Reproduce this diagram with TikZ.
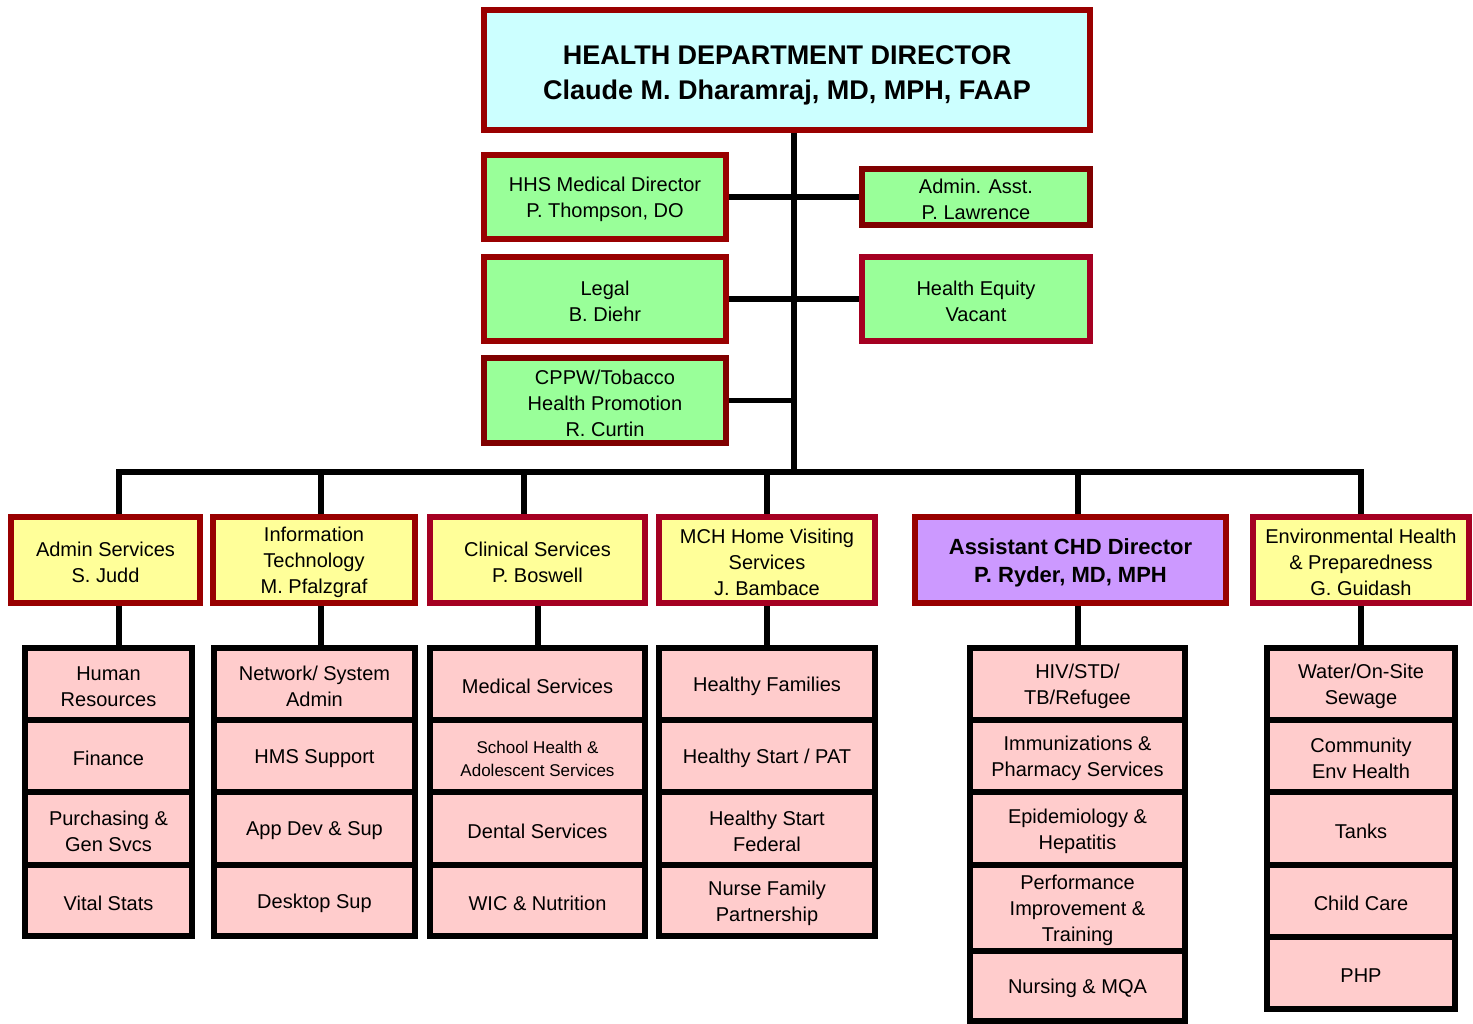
\documentclass[tikz,border=0pt]{standalone}
\usepackage{fontspec}
\setmainfont{Liberation Sans}
\definecolor{dred}{HTML}{990000}
\definecolor{crim}{HTML}{A50021}
\definecolor{mrn}{HTML}{800000}
\definecolor{cyanfill}{HTML}{CCFFFF}
\definecolor{greenfill}{HTML}{99FF99}
\definecolor{yellowfill}{HTML}{FFFF99}
\definecolor{purplefill}{HTML}{CC99FF}
\definecolor{pinkfill}{HTML}{FFCCCC}
\tikzset{
 base/.style={draw, line width=6pt, inner sep=0pt, align=center, text=black, font=\fontsize{20}{26}\selectfont, textshift/.initial=-2.5pt},
 topbox/.style={base, draw=dred, fill=cyanfill, font=\bfseries\fontsize{27}{35}\selectfont, textshift=-5pt},
 staffbox/.style={base, draw=dred, fill=greenfill},
 divbox/.style={base, draw=dred, fill=yellowfill},
 asstbox/.style={base, draw=dred, fill=purplefill, font=\bfseries\fontsize{22}{28}\selectfont},
 unitbox/.style={base, draw=black, fill=pinkfill},
 smalltext/.style={font=\fontsize{17}{23}\selectfont},
 conn/.style={line width=5.5pt, draw=black, line join=miter},
}
\newcommand\obox[7]{%
 \pgfmathsetmacro\obW{#5-#3}\pgfmathsetmacro\obH{#6-#4}%
 \pgfmathsetmacro\obX{(#3+#5)/2}\pgfmathsetmacro\obY{(#4+#6)/2}%
 \node[#2, minimum width=\obW pt, minimum height=\obH pt] (#1) at (\obX,\obY) {};
 \node[#2, draw=none, fill=none, minimum width=0pt, minimum height=0pt, yshift=\pgfkeysvalueof{/tikz/textshift}] at (#1.center) {#7};}
\begin{document}
\begin{tikzpicture}[x=1pt,y=-1pt]
\tikzset{textshift/.initial=-2.5pt}
\useasboundingbox (0,0) rectangle (1473,1024);
% top
\obox{dir}{topbox}{484}{10}{1090}{130}{HEALTH DEPARTMENT DIRECTOR\\Claude M. Dharamraj, MD, MPH, FAAP}
\obox{hhs}{staffbox}{484}{155}{726}{239}{HHS Medical Director\\P. Thompson, DO}
\obox{aa}{staffbox, draw=mrn}{862}{169}{1090}{225}{Admin. Asst.\\P. Lawrence}
\obox{legal}{staffbox}{484}{257}{726}{341}{Legal\\B. Diehr}
\obox{he}{staffbox, draw=crim}{862}{257}{1090}{341}{Health Equity\\Vacant}
\obox{cppw}{staffbox, draw=mrn}{484}{358}{726}{443}{CPPW/Tobacco\\Health Promotion\\R. Curtin}
% divisions
\obox{adms}{divbox}{11}{517}{200}{603}{Admin Services\\S. Judd}
\obox{it}{divbox}{213}{517}{415}{603}{Information\\Technology\\M. Pfalzgraf}
\obox{clin}{divbox, draw=crim}{430}{517}{645}{603}{Clinical Services\\P. Boswell}
\obox{mch}{divbox, draw=crim}{659}{517}{875}{603}{MCH Home Visiting\\Services\\J. Bambace}
\obox{asst}{asstbox}{915}{517}{1226}{603}{Assistant CHD Director\\P. Ryder, MD, MPH}
\obox{env}{divbox, draw=crim}{1253}{517}{1469}{603}{Environmental Health\\\& Preparedness\\G. Guidash}
% admin units
\obox{a1}{unitbox}{25}{648}{192}{720}{Human\\Resources}
\obox{a2}{unitbox}{25}{720}{192}{792}{Finance}
\obox{a3}{unitbox}{25}{792}{192}{865}{Purchasing \&\\Gen Svcs}
\obox{a4}{unitbox}{25}{865}{192}{936}{Vital Stats}
% IT units
\obox{i1}{unitbox}{214}{648}{415}{720}{Network/ System\\Admin}
\obox{i2}{unitbox}{214}{720}{415}{792}{HMS Support}
\obox{i3}{unitbox}{214}{792}{415}{865}{App Dev \& Sup}
\obox{i4}{unitbox}{214}{865}{415}{936}{Desktop Sup}
% clinical units
\obox{c1}{unitbox}{430}{648}{645}{720}{Medical Services}
\obox{c2}{unitbox, smalltext}{430}{720}{645}{792}{School Health \&\\Adolescent Services}
\obox{c3}{unitbox}{430}{792}{645}{865}{Dental Services}
\obox{c4}{unitbox}{430}{865}{645}{936}{WIC \& Nutrition}
% MCH units
\obox{m1}{unitbox}{659}{648}{875}{720}{Healthy Families}
\obox{m2}{unitbox}{659}{720}{875}{792}{Healthy Start / PAT}
\obox{m3}{unitbox}{659}{792}{875}{865}{Healthy Start\\Federal}
\obox{m4}{unitbox}{659}{865}{875}{936}{Nurse Family\\Partnership}
% assistant units
\obox{s1}{unitbox}{970}{648}{1185}{720}{HIV/STD/\\TB/Refugee}
\obox{s2}{unitbox}{970}{720}{1185}{792}{Immunizations \&\\Pharmacy Services}
\obox{s3}{unitbox}{970}{792}{1185}{865}{Epidemiology \&\\Hepatitis}
\obox{s4}{unitbox}{970}{865}{1185}{951}{Performance\\Improvement \&\\Training}
\obox{s5}{unitbox}{970}{951}{1185}{1021}{Nursing \& MQA}
% env units
\obox{e1}{unitbox}{1267}{648}{1455}{720}{Water/On-Site\\Sewage}
\obox{e2}{unitbox}{1267}{720}{1455}{792}{Community\\Env Health}
\obox{e3}{unitbox}{1267}{792}{1455}{865}{Tanks}
\obox{e4}{unitbox}{1267}{865}{1455}{937}{Child Care}
\obox{e5}{unitbox}{1267}{937}{1455}{1009}{PHP}
% connector coordinates
\coordinate (t) at (794,472);
\coordinate (b1) at (119,472);
\coordinate (b2) at (321,472);
\coordinate (b3) at (524,472);
\coordinate (b4) at (767,472);
\coordinate (b5) at (1078,472);
\coordinate (b6) at (1361,472);
\coordinate (l1) at (119,625);
\coordinate (l2) at (321,625);
\coordinate (l3) at (538,625);
\coordinate (l4) at (767,625);
\coordinate (l5) at (1078,625);
\coordinate (l6) at (1361,625);
% connectors
\draw[conn] (t |- dir.south) -- (t);
\draw[conn] (hhs.east) -- (aa.west);
\draw[conn] (legal.east) -- (he.west);
\draw[conn] (cppw.east) -- (cppw.east -| t);
\draw[conn] (b1 |- adms.north) -- (b1) -- (b6) -- (b6 |- env.north);
\draw[conn] (b2) -- (b2 |- it.north);
\draw[conn] (b3) -- (b3 |- clin.north);
\draw[conn] (b4) -- (b4 |- mch.north);
\draw[conn] (b5) -- (b5 |- asst.north);
\draw[conn] (l1 |- adms.south) -- (l1 |- a1.north);
\draw[conn] (l2 |- it.south) -- (l2 |- i1.north);
\draw[conn] (l3 |- clin.south) -- (l3 |- c1.north);
\draw[conn] (l4 |- mch.south) -- (l4 |- m1.north);
\draw[conn] (l5 |- asst.south) -- (l5 |- s1.north);
\draw[conn] (l6 |- env.south) -- (l6 |- e1.north);
\end{tikzpicture}
\end{document}
